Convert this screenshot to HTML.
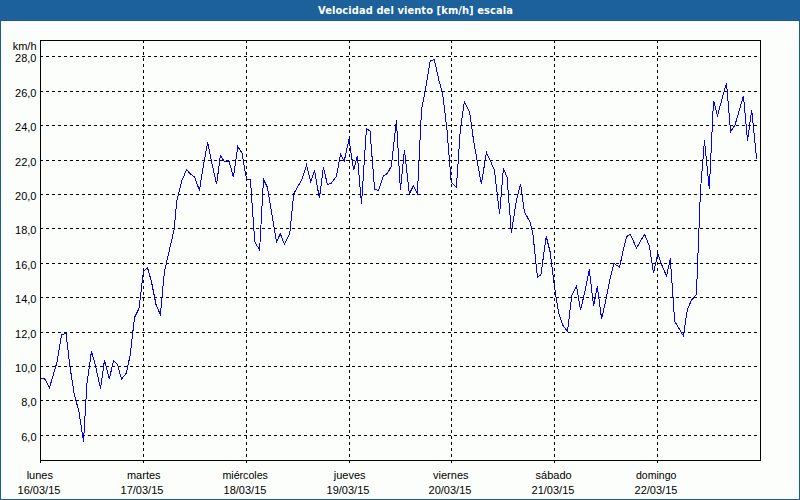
<!DOCTYPE html>
<html lang="es"><head><meta charset="utf-8"><title>Velocidad del viento</title>
<style>
html,body{margin:0;padding:0}
body{width:800px;height:500px;position:relative;overflow:hidden;background:#185f8f;font-family:"Liberation Sans",sans-serif}
#hdr{position:absolute;left:0;top:0;width:800px;height:20px;background:#1c6197;color:#fff;font-family:"DejaVu Sans Condensed","Liberation Sans",sans-serif;font-weight:bold;font-size:11px;line-height:20px;letter-spacing:0.09px}
#ttl{position:absolute;left:0;top:0;width:800px;height:20px;color:#fff;font-family:"DejaVu Sans Condensed","Liberation Sans",sans-serif;font-weight:bold;font-size:11px;line-height:20px;letter-spacing:0.09px}
#ttl span{position:absolute;left:318px;top:1px;white-space:nowrap}
#bg{position:absolute;left:1px;top:21px;width:796px;height:476px;background:#fcfefb;border:1px solid #fff}
</style></head><body>
<div id="hdr"></div>
<div id="bg"></div>
<svg width="800" height="500" viewBox="0 0 800 500" style="position:absolute;left:0;top:0">
<defs><pattern id="dz" width="24" height="15" patternUnits="userSpaceOnUse"><path d="M8 0h1v1h-1zM16 0h1v1h-1zM4 1h1v1h-1zM12 1h1v1h-1zM20 1h1v1h-1zM1 2h1v1h-1zM6 2h1v1h-1zM9 2h1v1h-1zM14 2h1v1h-1zM17 2h1v1h-1zM22 2h1v1h-1zM4 4h1v1h-1zM11 4h1v1h-1zM19 4h1v1h-1zM2 5h1v1h-1zM8 5h1v1h-1zM13 5h1v1h-1zM16 5h1v1h-1zM21 5h1v1h-1zM6 6h1v1h-1zM11 7h1v1h-1zM19 7h1v1h-1zM1 8h1v1h-1zM4 8h1v1h-1zM7 8h1v1h-1zM15 8h1v1h-1zM23 8h1v1h-1zM9 9h1v1h-1zM13 9h1v1h-1zM17 9h1v1h-1zM21 9h1v1h-1zM2 11h1v1h-1zM5 11h1v1h-1zM8 11h1v1h-1zM12 11h1v1h-1zM16 11h1v1h-1zM20 11h1v1h-1zM3 13h1v1h-1zM10 13h1v1h-1zM14 13h1v1h-1zM18 13h1v1h-1zM22 13h1v1h-1zM7 14h1v1h-1z" fill="#1d60ae"/></pattern></defs><rect x="0" y="0" width="800" height="20" fill="url(#dz)" shape-rendering="crispEdges"/>
<g shape-rendering="crispEdges" fill="none" stroke="#000" stroke-width="1">
<polyline points="40.5,378.5 44.5,378.5 49.5,387.5 53,376 57,362 61.5,335 66,333 70,367 74.3,394.5 78.8,411 83.5,441.5 87,383 91.5,351 95.8,367 100.5,388.5 104.5,360 109.3,379 113.5,360.5 117.5,364.5 121.5,379 126.3,373.3 130.2,355 134.5,317.5 139,308.5 143.5,271 147.5,267.7 151.3,281 156.2,305.5 160.4,314.3 164.4,271.5 168.5,254 174,230 176.9,200.5 181.6,181.3 186.6,169.6 190.4,174 194.6,177 199.4,190.4 203.2,167 207.6,142.4 211.4,160.8 216.6,184.2 220.4,155.4 224,161.2 229,161.2 233.4,177 237.8,146.5 242,153 246.6,179.8 250.4,179.6 254.8,242 259.6,250 263.5,179.6 267.5,187.6 272,215 276.5,242.3 280.3,233.7 284.5,244.4 289.7,234 293.7,194 297.8,186.4 301.8,180 306.6,164.8 310.6,181.6 314.6,170.9 319.4,198.4 323.4,167.2 327.4,184.5 331.4,183.2 336.5,176 340.5,154.4 344.2,161.3 349,139.2 353.6,170.2 357.4,156 361.5,204 366.4,128.6 370,131 374.6,189.4 378.6,190.6 383.4,176 387.4,173.4 391.4,166 396.4,120 400.4,190 404.4,150 409.4,194 413.4,185.5 417.4,193.6 421.5,110 425.7,88 430.2,61 434.3,59.5 438.6,79 442.8,95 447,130 451.2,182 456.4,187.6 460.3,130 464.4,101.6 469.6,112 473.3,138.5 477.3,162 481.4,184.2 486.4,152.4 490.4,161 494.4,170 499.6,214.4 503.4,168.4 507,177 511.4,233 516.4,200 520.6,184.4 524.3,211.4 530.2,222.6 532.9,233.8 537.4,277 540.9,275 546.2,236.2 550,251.4 554.5,287 558.6,313 563,325.5 567.5,331.5 571.7,295.8 576.5,286.2 580.5,310.2 584.8,292 589.3,269.4 593.6,306.2 597.3,286.2 601.6,319 606.4,297.4 610,279.2 614,263.5 619.6,267.2 622.6,253 626.6,236.5 630.4,234.4 636.5,248.2 640.5,241 644.7,234.3 649.5,246.6 653.5,273 657.8,253.8 661.8,265 666.6,276.2 670.3,258.5 674.7,321.5 679,328.5 683.4,336 687.3,309.9 691.5,300 696.4,294.7 700.5,190 704.5,140.5 709.3,189.2 713.5,100.6 717.5,115.5 722,99 726.5,83.1 730.6,131.7 735,125 739.2,110.5 743.4,95.7 747.5,140.6 751.7,110.1 756.6,158.6" stroke="#0000ff"/>
<path d="M40.5 40v423M40 40.5h721M760.5 40v421M40 460.5h721"/>
<g stroke-dasharray="3 3">
<path d="M40 56.5H760"/>
<path d="M40 91.5H760"/>
<path d="M40 125.5H760"/>
<path d="M40 160.5H760"/>
<path d="M40 194.5H760"/>
<path d="M40 228.5H760"/>
<path d="M40 263.5H760"/>
<path d="M40 297.5H760"/>
<path d="M40 332.5H760"/>
<path d="M40 366.5H760"/>
<path d="M40 400.5H760"/>
<path d="M40 435.5H760"/>
<path d="M143.5 40V463"/>
<path d="M246.5 40V463"/>
<path d="M349.5 40V463"/>
<path d="M451.5 40V463"/>
<path d="M554.5 40V463"/>
<path d="M657.5 40V463"/>
</g>
</g>
<g font-family="'Liberation Sans', sans-serif" font-size="11" fill="#000">
<text x="36.5" y="50" text-anchor="end">km/h</text>
<text x="36.5" y="62" text-anchor="end">28,0</text>
<text x="36.5" y="97" text-anchor="end">26,0</text>
<text x="36.5" y="131" text-anchor="end">24,0</text>
<text x="36.5" y="166" text-anchor="end">22,0</text>
<text x="36.5" y="200" text-anchor="end">20,0</text>
<text x="36.5" y="234" text-anchor="end">18,0</text>
<text x="36.5" y="269" text-anchor="end">16,0</text>
<text x="36.5" y="303" text-anchor="end">14,0</text>
<text x="36.5" y="338" text-anchor="end">12,0</text>
<text x="36.5" y="372" text-anchor="end">10,0</text>
<text x="36.5" y="406" text-anchor="end">8,0</text>
<text x="36.5" y="441" text-anchor="end">6,0</text>
<text x="39.8" y="479" text-anchor="middle">lunes</text>
<text x="39" y="494" text-anchor="middle">16/03/15</text>
<text x="143.75" y="479" text-anchor="middle">martes</text>
<text x="142" y="494" text-anchor="middle">17/03/15</text>
<text x="245.2" y="479" text-anchor="middle" textLength="45.5" lengthAdjust="spacingAndGlyphs">miércoles</text>
<text x="245" y="494" text-anchor="middle">18/03/15</text>
<text x="349.7" y="479" text-anchor="middle">jueves</text>
<text x="348" y="494" text-anchor="middle">19/03/15</text>
<text x="450.8" y="479" text-anchor="middle">viernes</text>
<text x="450" y="494" text-anchor="middle">20/03/15</text>
<text x="553.6" y="479" text-anchor="middle">sábado</text>
<text x="553" y="494" text-anchor="middle">21/03/15</text>
<text x="656.2" y="479" text-anchor="middle" textLength="40.4" lengthAdjust="spacingAndGlyphs">domingo</text>
<text x="656" y="494" text-anchor="middle">22/03/15</text>
</g>
</svg>
<div id="ttl"><span>Velocidad del viento [km/h] escala</span></div>
</body></html>
